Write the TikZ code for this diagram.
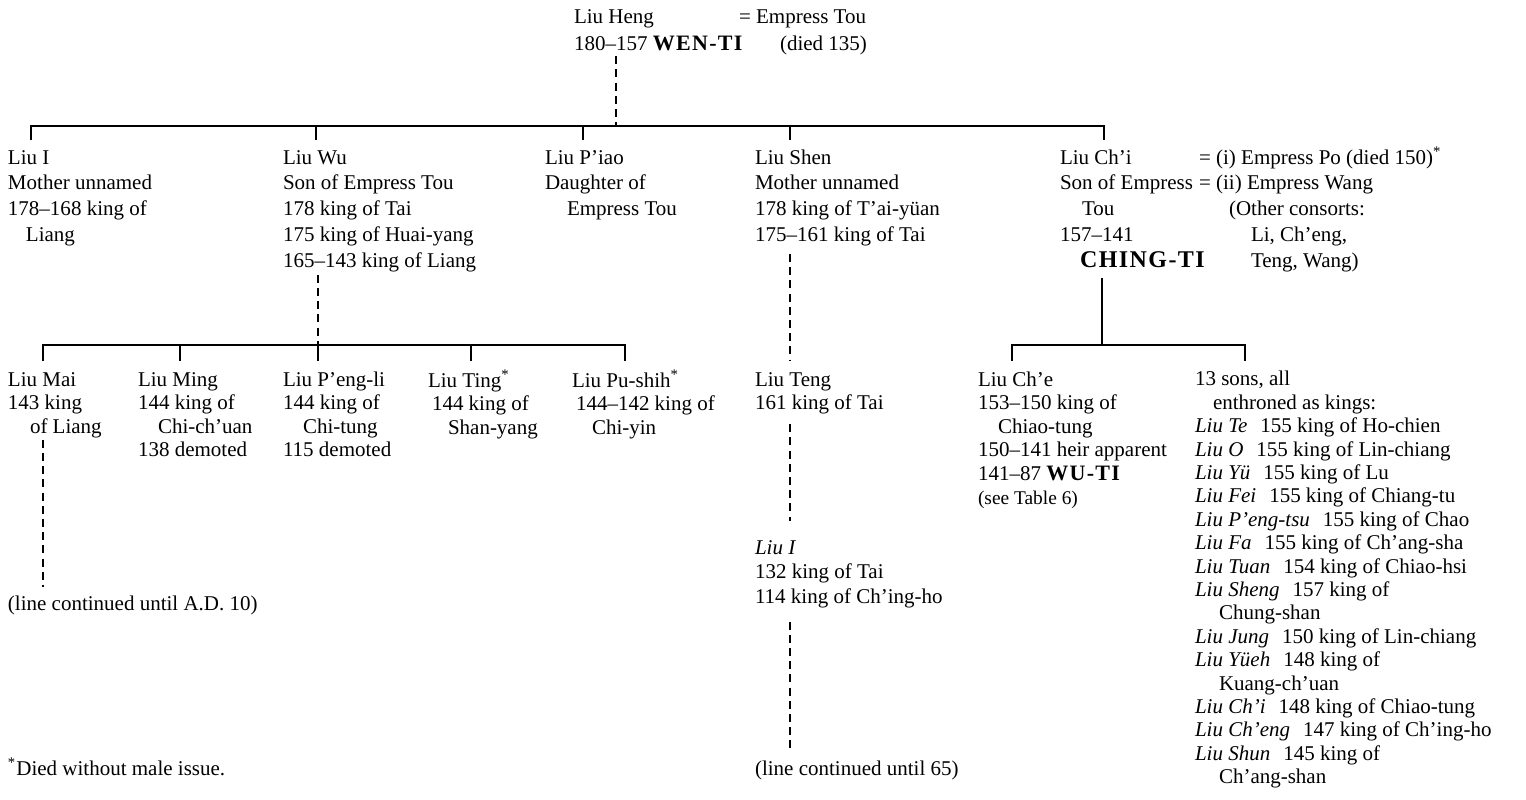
\documentclass[tikz,border=0pt]{standalone}
\usepackage{fontspec}
\setmainfont{Liberation Serif}
\newcommand{\fsA}{\fontsize{10.5}{12.9}\selectfont}
\newcommand{\fsB}{\fontsize{10.5}{11.8}\selectfont}
\newcommand{\fsC}{\fontsize{10.5}{11.7}\selectfont}
\newcommand{\fsD}{\fontsize{10.5}{12.25}\selectfont}
\newcommand{\fsT}{\fontsize{10.5}{13.5}\selectfont}
\newcommand{\bcap}[2]{{\fontsize{#1}{10}\selectfont\bfseries\addfontfeature{LetterSpace=6}#2}}
\newcommand{\sn}[2]{\textit{#1}\hspace{6.5pt}#2}
\newcommand{\ind}[1]{\hspace*{#1pt}}
\begin{document}
\begin{tikzpicture}[x=0.5pt,y=-0.5pt,
  txt/.style={anchor=north west,inner sep=0pt,outer sep=0pt,align=left},
  one/.style={anchor=base west,inner sep=0pt,outer sep=0pt,font=\fsA},
  bar/.style={line width=1.4pt,line join=miter},
  sbar/.style={line width=1.25pt,line join=miter},
  dline/.style={line width=1.1pt,dash pattern=on 4pt off 2.6pt},
  sline/.style={line width=1.1pt}]
\useasboundingbox (0,0) rectangle (1526,799);

% top couple
\node[txt,font=\fsT] (heng) at (574,5) {\strut Liu Heng\\180--157 \bcap{11}{WEN-TI}};
\node[txt,font=\fsT] (tou) at (739,5) {\strut = Empress Tou\\\ind{20.5}(died 135)};

% second generation
\node[txt,font=\fsA] (liui) at (8,146) {\strut Liu I\\Mother unnamed\\178--168 king of\\\ind{9}Liang};
\node[txt,font=\fsA] (liuwu) at (283,146) {\strut Liu Wu\\Son of Empress Tou\\178 king of Tai\\175 king of Huai-yang\\165--143 king of Liang};
\node[txt,font=\fsA] (piao) at (545,146) {\strut Liu P'iao\\Daughter of\\\ind{11}Empress Tou};
\node[txt,font=\fsA] (shen) at (755,146) {\strut Liu Shen\\Mother unnamed\\178 king of T'ai-y\"uan\\175--161 king of Tai};
\node[txt,font=\fsA] (chi) at (1060,146) {\strut Liu Ch'i\\Son of Empress\\\ind{11}Tou\\157--141\\\ind{10}\bcap{12}{CHING-TI}};
\node[txt,font=\fsA] (cons) at (1199,146) {\strut = (i) Empress Po (died 150)\textsuperscript{*}\\= (ii) Empress Wang\\\ind{15}(Other consorts:\\\ind{26}Li, Ch'eng,\\\ind{26}Teng, Wang)};

% third generation
\node[txt,font=\fsB] (mai) at (8,369.5) {\strut Liu Mai\\143 king\\\ind{11}of Liang};
\node[txt,font=\fsB] (ming) at (138,369.5) {\strut Liu Ming\\144 king of\\\ind{10}Chi-ch'uan\\138 demoted};
\node[txt,font=\fsB] (pengli) at (283,369.5) {\strut Liu P'eng-li\\144 king of\\\ind{10}Chi-tung\\115 demoted};
\node[txt,font=\fsB] (ting) at (428,369.5) {\strut Liu Ting\textsuperscript{*}\\\ind{2}144 king of\\\ind{10}Shan-yang};
\node[txt,font=\fsB] (pushih) at (572,369.5) {\strut Liu Pu-shih\textsuperscript{*}\\\ind{2}144--142 king of\\\ind{10}Chi-yin};
\node[txt,font=\fsB] (teng) at (755,369.5) {\strut Liu Teng\\161 king of Tai};
\node[txt,font=\fsB] (che) at (978,369.5) {\strut Liu Ch'e\\153--150 king of\\\ind{10}Chiao-tung\\150--141 heir apparent\\141--87 \bcap{11}{WU-TI}\\{\fontsize{9.7}{11.8}\selectfont (see Table 6)}};
\node[txt,font=\fsC] (sons) at (1195,369.5) {\strut 13 sons, all\\\ind{9}enthroned as kings:\\
\sn{Liu Te}{155 king of Ho-chien}\\
\sn{Liu O}{155 king of Lin-chiang}\\
\sn{Liu Y\"u}{155 king of Lu}\\
\sn{Liu Fei}{155 king of Chiang-tu}\\
\sn{Liu P'eng-tsu}{155 king of Chao}\\
\sn{Liu Fa}{155 king of Ch'ang-sha}\\
\sn{Liu Tuan}{154 king of Chiao-hsi}\\
\sn{Liu Sheng}{157 king of}\\
\ind{12}Chung-shan\\
\sn{Liu Jung}{150 king of Lin-chiang}\\
\sn{Liu Y\"ueh}{148 king of}\\
\ind{12}Kuang-ch'uan\\
\sn{Liu Ch'i}{148 king of Chiao-tung}\\
\sn{Liu Ch'eng}{147 king of Ch'ing-ho}\\
\sn{Liu Shun}{145 king of}\\
\ind{12}Ch'ang-shan};

% later descendants
\node[txt,font=\fsD] (liui2) at (755,537) {\strut\textit{Liu I}\\132 king of Tai\\114 king of Ch'ing-ho};
\node[one] (cont1) at (8,610) {(line continued until A.D. 10)};
\node[one] (cont2) at (755,775) {(line continued until 65)};
\node[one] (note) at (8,775) {\textsuperscript{*}Died without male issue.};

% junction points
\coordinate (j0) at (616,126);
\coordinate (k1) at (31,126);
\coordinate (k2) at (316,126);
\coordinate (k3) at (583,126);
\coordinate (k4) at (790,126);
\coordinate (k5) at (1104,126);
\coordinate (m1) at (43,345);
\coordinate (m2) at (180,345);
\coordinate (m3) at (318,345);
\coordinate (m4) at (471,345);
\coordinate (m5) at (625,345);
\coordinate (c0) at (1102,345);
\coordinate (c1) at (1012,345);
\coordinate (c2) at (1245,345);

% Wen-ti's children
\draw[dline,shorten <=2.5pt] (heng.south -| j0) -- (j0);
\draw[bar,shorten <=3pt,shorten >=3pt] (k1 |- liui.north) -- (k1) -- (k5) -- (k5 |- chi.north);
\draw[bar,shorten >=3pt] (k2) -- (k2 |- liuwu.north);
\draw[bar,shorten >=3pt] (k3) -- (k3 |- piao.north);
\draw[bar,shorten >=3pt] (k4) -- (k4 |- shen.north);

% Liu Wu's sons
\draw[dline,shorten <=1.5pt] (liuwu.south -| m3) -- (m3);
\draw[sbar,shorten <=4.5pt,shorten >=4.5pt] (m1 |- mai.north) -- (m1) -- (m5) -- (m5 |- pushih.north);
\draw[sbar,shorten >=4.5pt] (m2) -- (m2 |- ming.north);
\draw[sbar,shorten >=4.5pt] (m3) -- (m3 |- pengli.north);
\draw[sbar,shorten >=4.5pt] (m4) -- (m4 |- ting.north);
\draw[dline,shorten <=1pt,shorten >=4pt] (mai.south -| m1) -- (cont1.north -| m1);

% Liu Shen's line
\draw[dline,shorten <=4pt,shorten >=4.5pt] (shen.south -| k4) -- (teng.north -| k4);
\draw[dline,shorten <=5pt,shorten >=8pt] (teng.south -| k4) -- (liui2.north -| k4);
\draw[dline,shorten <=7pt,shorten >=4.5pt] (liui2.south -| k4) -- (cont2.north -| k4);

% Ching-ti's sons
\draw[sline,shorten <=5pt] (chi.south -| c0) -- (c0);
\draw[sbar,shorten <=4.5pt,shorten >=4.5pt] (c1 |- che.north) -- (c1) -- (c2) -- (c2 |- sons.north);
\end{tikzpicture}
\end{document}
